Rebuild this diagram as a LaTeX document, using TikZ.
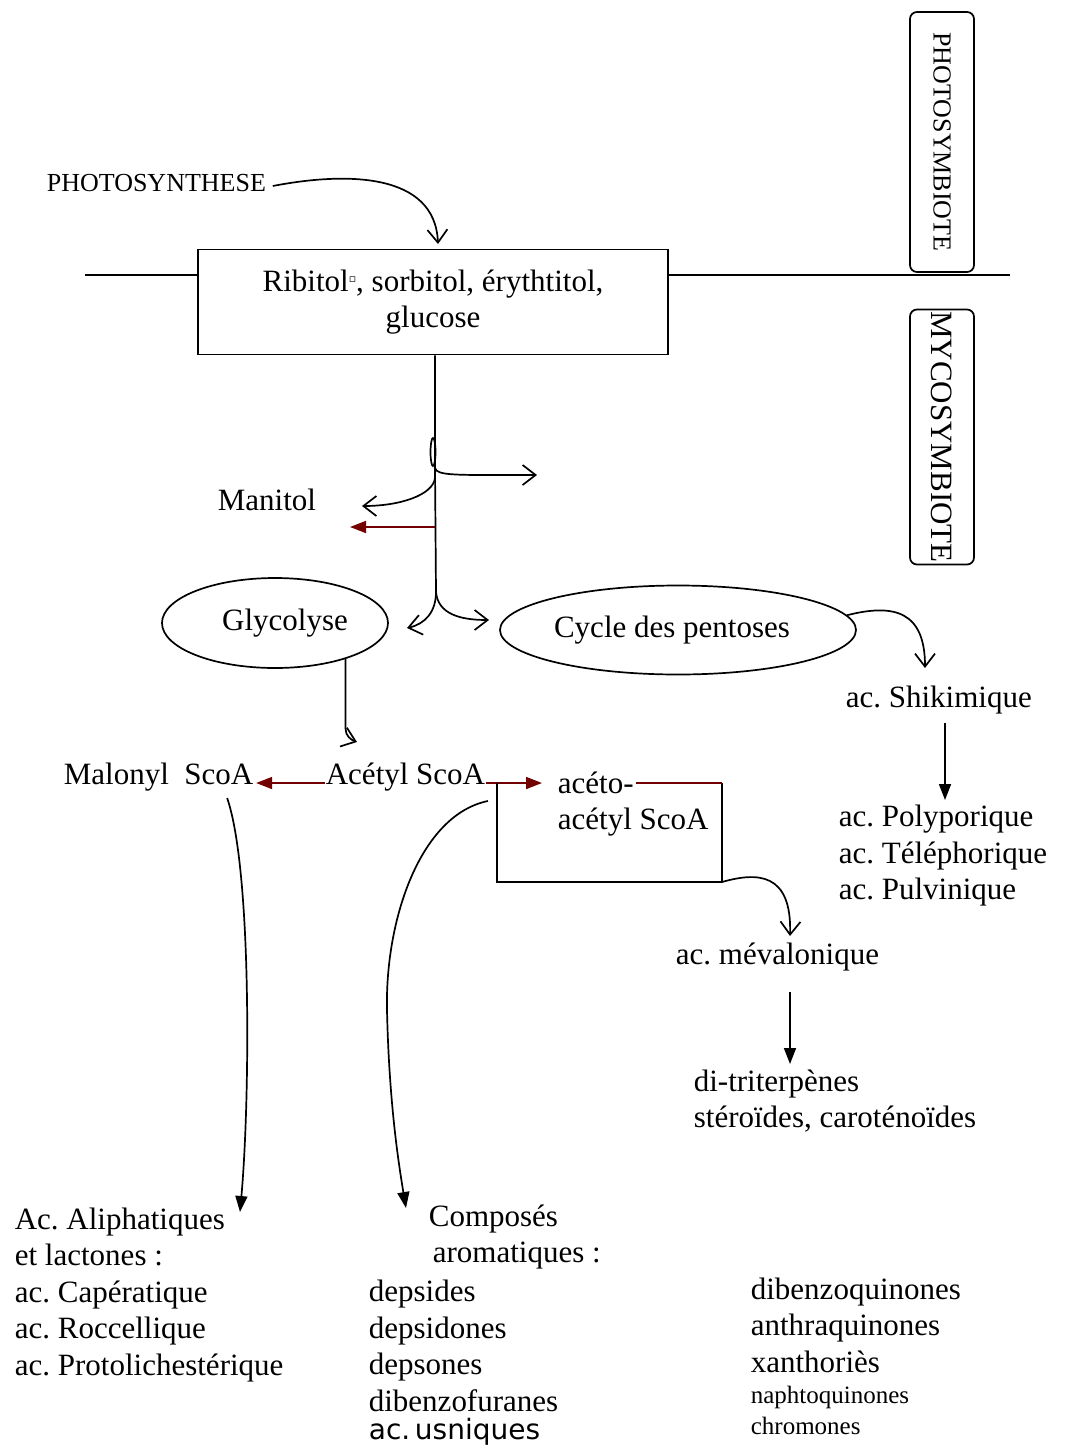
\documentclass[tikz,border=0pt]{standalone}
\usepackage{fontspec}
\setmainfont{Liberation Serif}
\newfontfamily\handfont{DejaVu Sans}
\newfontfamily\symfont{DejaVu Sans}
\usetikzlibrary{arrows.meta,positioning,shapes.geometric}
\frenchspacing

\begin{document}
\begin{tikzpicture}[
  x=1pt, y=-1pt,
  line width=1.7pt,
  txt/.style={inner sep=0pt, align=left, font=\fontsize{31}{36.5}\selectfont},
  lbl/.style={inner sep=0pt, align=left, font=\fontsize{26}{30}\selectfont},
  small/.style={inner sep=0pt, align=left, font=\fontsize{25}{31}\selectfont},
  cycle/.style={ellipse, draw, inner sep=0pt, font=\fontsize{31}{36.5}\selectfont},
  side/.style={draw, rounded corners=7pt, rotate=-90, minimum height=64pt, inner sep=0pt},
  barb/.style={-{Straight Barb[length=13pt,width=20pt]}},
  fillarrow/.style={-{Triangle[length=16pt,width=12pt]}},
  maroon/.style={draw=red!45!black}
]
\useasboundingbox (0,0) rectangle (1067,1449);

\node[lbl, anchor=west] (photo) at (46,183) {PHOTOSYNTHESE};
\node[draw, minimum width=470pt, minimum height=105pt, align=center, font=\fontsize{31}{36}\selectfont] (ribo) at (433,302)
  {Ribitol\raisebox{9pt}{\symfont\fontsize{11}{11}\selectfont ▫}, sorbitol, érythtitol,\\glucose};
\node[side, minimum width=260pt, font=\fontsize{26}{30}\selectfont] (phsym) at (942,142) {PHOTOSYMBIOTE};
\node[side, minimum width=255pt, font=\fontsize{31}{36}\selectfont] (mysym) at (942,437) {MYCOSYMBIOTE};

\node[txt, anchor=west] (manitol) at (217,500) {Manitol};
\node[cycle, minimum width=226pt, minimum height=90pt] (glyc) at (275,623) {\hspace*{20pt}Glycolyse};
\node[cycle, minimum width=356pt, minimum height=89pt] (pent) at (678,630) {Cycle des pentoses\hspace*{12pt}};

\node[txt, anchor=west] (malonyl) at (63,777) {Malonyl\ \ ScoA};
\node[txt, anchor=west] (acetyl) at (325,777) {Acétyl ScoA};
\node[txt, anchor=west] (aceto) at (557,804) {acéto-\\acétyl ScoA};
\node[txt, anchor=west] (shik) at (845,700) {ac. Shikimique};
\node[txt, anchor=west] (polyp) at (838,856) {ac. Polyporique\\ac. Téléphorique\\ac. Pulvinique};
\node[txt, anchor=west] (meva) at (675,957) {ac. mévalonique};
\node[txt, anchor=west] (diter) at (693,1101) {di-triterpènes\\stéroïdes, caroténoïdes};

\node[txt, anchor=west] (aliph) at (14,1295) {Ac. Aliphatiques\\et lactones :\\ac. Capératique\\ac. Roccellique\\ac. Protolichestérique};
\node[txt, anchor=west] (compo) at (428,1237) {Composés\\\hspace{4pt}aromatiques :};
\node[txt, anchor=west] (deps) at (368,1346) {depsides\\depsidones\\depsones\\dibenzofuranes};
\node[inner sep=0pt, anchor=west, font=\handfont\fontsize{28}{30}\selectfont] (usn) at (368,1432) {ac.\,usniques};
\node[txt, anchor=west] (quin) at (750,1325) {dibenzoquinones\\anthraquinones\\xanthoriès};
\node[small, anchor=west] (naph) at (750,1410) {naphtoquinones\\chromones};

\coordinate (lineL) at (85,275);
\coordinate (lineR) at (1010,275);
\coordinate (photoTip) at (438,244);
\coordinate (splitA) at (435,468);
\coordinate (splitB) at (436,592);
\coordinate (tipR1) at (537,475);
\coordinate (tipMan) at (362,506);
\coordinate (tipMan2) at (350,527);
\coordinate (tipGly) at (407,628);
\coordinate (tipPen) at (489,620);
\coordinate (tipAc) at (357,742);
\coordinate (tipAceto) at (542,783);
\coordinate (boxTL) at (497,783);
\coordinate (boxBR) at (722,882);
\coordinate (tipMeva) at (790,936);
\coordinate (tipDiter) at (790,1064);
\coordinate (tipShik) at (925,668);
\coordinate (tipPoly) at (945,800);
\coordinate (tipAli) at (240,1212);
\coordinate (tipCompo) at (406,1208);

\draw (lineL) -- (lineL -| ribo.west);
\draw (ribo.east |- lineR) -- (lineR);
\draw[barb] ([xshift=6pt,yshift=-3pt]photo.east) .. controls (345,172) and (435,172) .. (photoTip);

\draw (ribo.south -| splitA) -- (splitA) -- (splitB);
\draw (433,452) ellipse (2.5 and 14);
\draw[barb] (splitA) .. controls (437,476) and (455,475) .. (tipR1);
\draw[barb] ([yshift=-10pt]splitA) .. controls (433,495) and (400,506) .. (tipMan);
\draw[fillarrow, maroon] (splitA |- tipMan2) -- (tipMan2);
\draw[barb] (splitB) .. controls (436,612) and (425,624) .. (tipGly);
\draw[barb] (splitB) .. controls (438,614) and (460,620) .. (tipPen);

\draw[barb] (glyc.333) -- ++(0,70) to[out=-90,in=160] (tipAc);
\draw[fillarrow, maroon] ([yshift=-6pt]acetyl.west) -- ([yshift=-6pt,xshift=2pt]malonyl.east);
\draw[fillarrow, maroon] ([yshift=-6pt]acetyl.east) -- (tipAceto);
\draw (boxTL) |- (boxBR) -- (boxBR |- boxTL);
\draw[maroon] (boxBR |- boxTL) -- ++(-86,0);
\draw[barb] (boxBR) .. controls (757,872) and (792,872) .. (tipMeva);
\draw[fillarrow] ([yshift=-20pt]meva.south -| tipDiter) -- (tipDiter);

\draw[barb] (pent.5) .. controls (895,603) and (925,612) .. (tipShik);
\draw[fillarrow] ([yshift=-8pt]shik.south -| tipPoly) -- (tipPoly);

\draw[fillarrow] ([xshift=-27pt,yshift=-6pt]malonyl.south east) .. controls (252,870) and (250,1100) .. (tipAli);
\draw[fillarrow] ([xshift=2pt,yshift=-9pt]acetyl.south east) .. controls (420,815) and (385,920) .. (387,1010) .. controls (389,1100) and (398,1160) .. (tipCompo);
\end{tikzpicture}
\end{document}
